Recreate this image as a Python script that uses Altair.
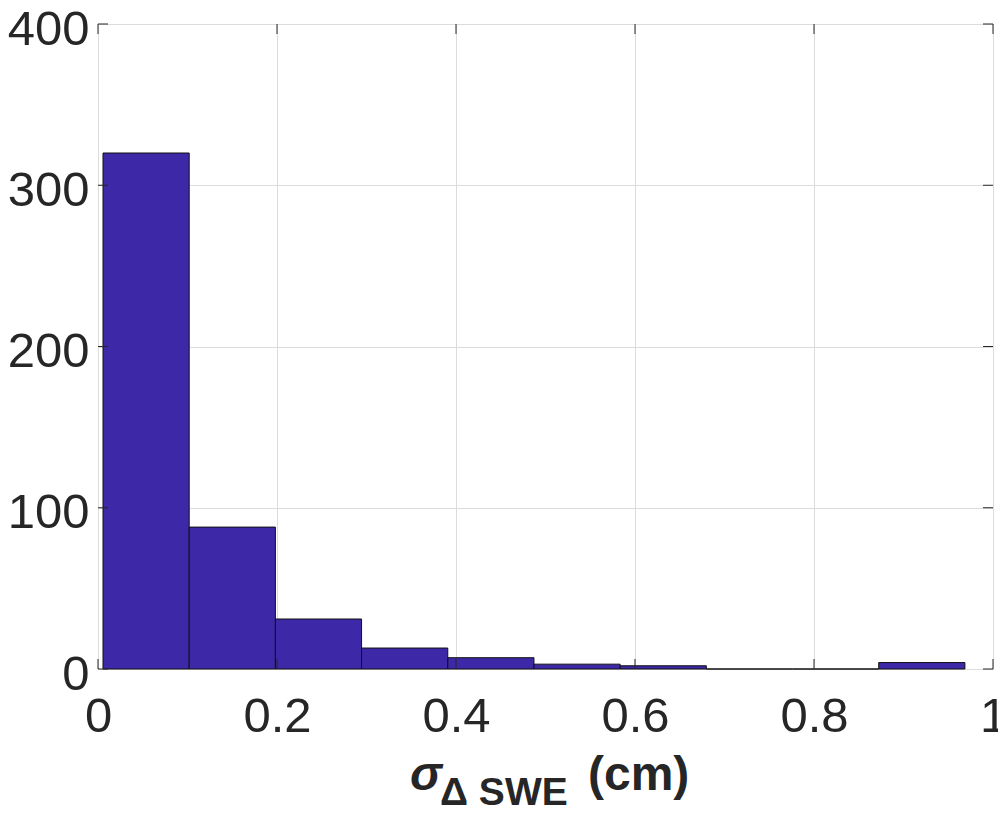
import altair as alt
import pandas as pd

# Histogram data
bin_left = [0.0056, 0.1019, 0.1982, 0.2945, 0.3908, 0.4871, 0.5834, 0.6797, 0.7760, 0.8723]
bin_right = [0.1019, 0.1982, 0.2945, 0.3908, 0.4871, 0.5834, 0.6797, 0.7760, 0.8723, 0.9686]
counts = [320, 88, 31, 13, 7, 3, 2, 0, 0, 4]

x_ticks = [0, 0.2, 0.4, 0.6, 0.8, 1]
y_ticks = [0, 100, 200, 300, 400]

W, H = 895, 645
TOP = 16
FONT = "Liberation Sans"
DARK = "#262626"

bars_df = pd.DataFrame({"x0": bin_left, "x1": bin_right, "count": counts,
                        "base": [0] * len(counts)})
xt_df = pd.DataFrame({"v": x_ticks})
yt_df = pd.DataFrame({"v": y_ticks})

xscale = alt.Scale(domain=[0, 1], nice=False, zero=False)
yscale = alt.Scale(domain=[0, 400], nice=False)

bars = alt.Chart(bars_df).mark_bar(
    color="#3d28a8", stroke="#111111", strokeWidth=1
).encode(
    x=alt.X("x0:Q", scale=xscale,
            axis=alt.Axis(values=x_ticks, format="~g", title=None, grid=True,
                          gridColor="#dcdcdc", gridWidth=1, ticks=False, domain=False,
                          labelFontSize=49, labelFont=FONT, labelColor=DARK,
                          labelPadding=23, labelFlush=False)),
    x2="x1:Q",
    y=alt.Y("count:Q", scale=yscale,
            axis=alt.Axis(values=y_ticks, title=None, grid=True,
                          gridColor="#dcdcdc", gridWidth=1, ticks=False, domain=False,
                          labelFontSize=49, labelFont=FONT, labelColor=DARK,
                          labelPadding=9, labelOffset=5, labelFlush=False)),
    y2="base:Q",
)

tick_len = 10
xt_bottom = alt.Chart(xt_df).mark_rule(color=DARK, strokeWidth=1).encode(
    x=alt.X("v:Q", scale=xscale), y=alt.value(H), y2=alt.value(H - tick_len))
xt_top = alt.Chart(xt_df).mark_rule(color=DARK, strokeWidth=1).encode(
    x=alt.X("v:Q", scale=xscale), y=alt.value(0), y2=alt.value(tick_len))
yt_left = alt.Chart(yt_df).mark_rule(color=DARK, strokeWidth=1).encode(
    y=alt.Y("v:Q", scale=yscale), x=alt.value(0), x2=alt.value(tick_len))
yt_right = alt.Chart(yt_df).mark_rule(color=DARK, strokeWidth=1).encode(
    y=alt.Y("v:Q", scale=yscale), x=alt.value(W), x2=alt.value(W - tick_len))

sigma = alt.Chart(pd.DataFrame({"t": ["σ"]})).mark_text(
    font=FONT, fontSize=48, fontStyle="italic", fontWeight="bold", align="left",
    baseline="alphabetic", color=DARK
).encode(text="t:N", x=alt.value(312), y=alt.value(766))
sub = alt.Chart(pd.DataFrame({"t": ["Δ SWE"]})).mark_text(
    font=FONT, fontSize=39, fontWeight="bold", align="left", baseline="alphabetic",
    color=DARK
).encode(text="t:N", x=alt.value(342), y=alt.value(781))
unit = alt.Chart(pd.DataFrame({"t": ["(cm)"]})).mark_text(
    font=FONT, fontSize=48, fontWeight="bold", align="left", baseline="alphabetic",
    color=DARK
).encode(text="t:N", x=alt.value(490), y=alt.value(766))

chart = alt.layer(
    bars, xt_bottom, xt_top, yt_left, yt_right, sigma, sub, unit
).properties(
    width=W, height=H,
    autosize=alt.AutoSizeParams(type="none"),
    padding={"left": 90, "top": TOP, "right": 5, "bottom": 137},
).configure_view(
    stroke=DARK, strokeWidth=1
).configure(background="white")

chart.save("out.html", embed_options={"renderer": "svg", "actions": False})
